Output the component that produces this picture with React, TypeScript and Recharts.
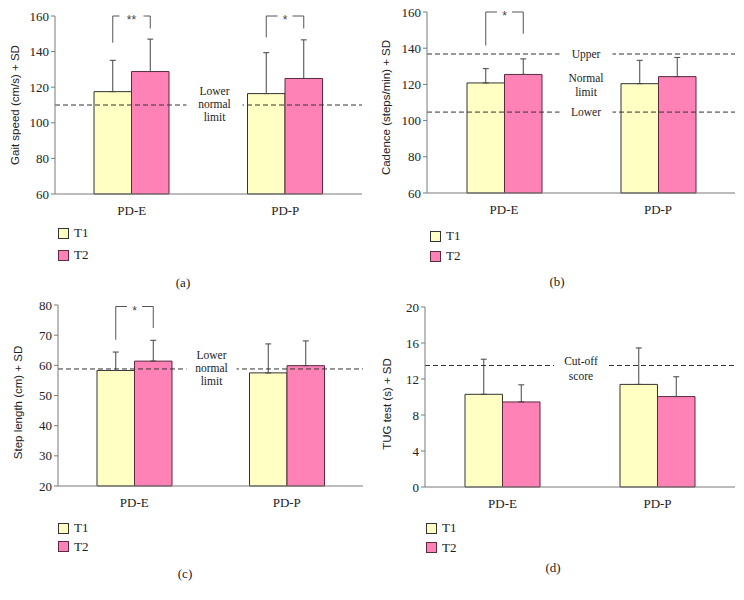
import React from "react";
import { Bar, BarChart, ErrorBar, Legend, Rectangle, ReferenceLine, XAxis, YAxis } from "recharts";

const categories = ["PD-E", "PD-P"];
const seriesNames = ["T1", "T2"];

// (a) gait speed, cm/s
const gaitT1 = [117.5, 116.4];
const gaitT1Sd = [17.6, 23.0];
const gaitT2 = [128.8, 124.9];
const gaitT2Sd = [18.2, 21.7];
const gaitMarks = ["**", "*"];
const gaitBracketLeft = [145, 148];
const gaitBracketRight = [153, 153];
const gaitLimit = 110;

// (b) cadence, steps/min
const cadenceT1 = [120.8, 120.4];
const cadenceT1Sd = [7.9, 12.9];
const cadenceT2 = [125.5, 124.3];
const cadenceT2Sd = [8.6, 10.6];
const cadenceMarks = ["*", ""];
const cadenceBracketLeft = [141.5, 0];
const cadenceBracketRight = [148, 0];
const cadenceUpper = 136.8;
const cadenceLower = 104.7;

// (c) step length, cm
const stepT1 = [58.3, 57.5];
const stepT1Sd = [6.1, 9.6];
const stepT2 = [61.4, 59.9];
const stepT2Sd = [6.9, 8.2];
const stepMarks = ["*", ""];
const stepBracketLeft = [68.5, 0];
const stepBracketRight = [72.4, 0];
const stepLimit = 58.8;

// (d) TUG test, s
const tugT1 = [10.3, 11.4];
const tugT1Sd = [3.9, 4.05];
const tugT2 = [9.45, 10.05];
const tugT2Sd = [1.9, 2.2];
const tugCutoff = 13.5;

const SERIF = "'Liberation Serif', 'DejaVu Serif', serif";
const SANS = "'Liberation Sans', Arial, sans-serif";
const T1_FILL = "#ffffc4";
const T1_STROKE = "#333333";
const T2_FILL = "#ff82b6";
const T2_STROKE = "#5a2a40";
const AXIS = "#7a7a7a";

type Row = {
  name: string;
  t1: number;
  t2: number;
  t1Err: number[];
  t2Err: number[];
  mark: string;
  left: number;
  right: number;
};

type Note = { y: number; lines: string[]; offsets: number[]; gap: number; dx: number };

type PanelCfg = {
  pos: [number, number];
  h: number;
  margin: { top: number; right: number; bottom: number; left: number };
  domain: [number, number];
  ticks: number[];
  title: string;
  titleX: number;
  titleDy: number;
  rows: Row[];
  bracketTop: number;
  notes: Note[];
  legendX: number;
  legendY: number;
  legendRow: number;
  tag: string;
  tagX: number;
  tagY: number;
};

function buildRows(t1: number[], t1Sd: number[], t2: number[], t2Sd: number[], marks?: string[], left?: number[], right?: number[]): Row[] {
  return categories.map((name, i) => ({
    name,
    t1: t1[i],
    t2: t2[i],
    t1Err: [0, t1Sd[i]],
    t2Err: [0, t2Sd[i]],
    mark: marks ? marks[i] : "",
    left: left ? left[i] : 0,
    right: right ? right[i] : 0,
  }));
}

// T1 bar shape; also draws the significance bracket over the pair
function makeT1Shape(min: number, bracketTop: number) {
  return (p: any) => {
    const { x, y, width, height, payload } = p;
    const rect = <Rectangle x={x} y={y} width={width} height={height} fill={T1_FILL} stroke={T1_STROKE} strokeWidth={1} />;
    if (!payload || !payload.mark) return rect;
    const k = height / (payload.t1 - min);
    const yOf = (v: number) => y + height - (v - min) * k;
    const xl = x + width / 2;
    const xr = x + width * 1.5;
    const xm = (xl + xr) / 2;
    const yt = yOf(bracketTop);
    const half = 3 + 4.5 * payload.mark.length;
    return (
      <g>
        {rect}
        <path
          d={`M${xl},${yOf(payload.left)}V${yt}H${xm - half}M${xm + half},${yt}H${xr}V${yOf(payload.right)}`}
          stroke="#555"
          strokeWidth={1}
          fill="none"
        />
        <text x={xm} y={yt + 8} textAnchor="middle" fontFamily={SANS} fontSize={12} fill="#444">
          {payload.mark}
        </text>
      </g>
    );
  };
}

function renderNote(note: Note) {
  return (p: any) => {
    const vb = p.viewBox || p;
    const cx = vb.x + vb.width / 2 + note.dx;
    const cy = vb.y;
    return (
      <g>
        <rect x={cx - note.gap / 2} y={cy - 3} width={note.gap} height={6} fill="#fff" />
        {note.lines.map((t, i) => (
          <text key={t} x={cx} y={cy + note.offsets[i]} textAnchor="middle" fontFamily={SERIF} fontSize={11.5} fill="#222">
            {t}
          </text>
        ))}
      </g>
    );
  };
}

function LegendBox({ rowH }: { rowH: number }) {
  const fills = [T1_FILL, T2_FILL];
  const strokes = [T1_STROKE, T2_STROKE];
  return (
    <div style={{ fontFamily: SERIF, fontSize: 13, color: "#222" }}>
      {seriesNames.map((n, i) => (
        <div key={n} style={{ display: "flex", alignItems: "center", height: rowH }}>
          <span style={{ width: 9, height: 9, background: fills[i], border: `1px solid ${strokes[i]}` }} />
          <span style={{ marginLeft: 5 }}>{n}</span>
        </div>
      ))}
    </div>
  );
}

function Panel({ cfg }: { cfg: PanelCfg }) {
  const [min] = cfg.domain;
  return (
    <div style={{ position: "absolute", left: cfg.pos[0], top: cfg.pos[1], width: 372, height: cfg.h }}>
      <BarChart width={372} height={cfg.h} data={cfg.rows} margin={cfg.margin} barGap={0} barSize={37.5}>
        <XAxis
          dataKey="name"
          height={30}
          tickLine={false}
          tickSize={6}
          tickMargin={6}
          stroke={AXIS}
          tick={{ fontFamily: SERIF, fontSize: 13, fill: "#222" }}
        />
        <YAxis
          width={40}
          domain={cfg.domain}
          ticks={cfg.ticks}
          interval={0}
          tickSize={4}
          tickMargin={2}
          stroke={AXIS}
          tick={{ fontFamily: SERIF, fontSize: 13, fill: "#222" }}
          label={(p: any) => {
            const vb = p.viewBox || p;
            const cy = vb.y + vb.height / 2 + cfg.titleDy;
            return (
              <text
                x={cfg.titleX}
                y={cy}
                transform={`rotate(-90 ${cfg.titleX} ${cy})`}
                textAnchor="middle"
                dominantBaseline="central"
                fontFamily={SANS}
                fontSize={11.5}
                fill="#222"
              >
                {cfg.title}
              </text>
            );
          }}
        />
        <Bar dataKey="t1" name="T1" fill={T1_FILL} stroke={T1_STROKE} isAnimationActive={false} shape={makeT1Shape(min, cfg.bracketTop)}>
          <ErrorBar dataKey="t1Err" width={3} stroke="#444" strokeWidth={1} direction="y" isAnimationActive={false} />
        </Bar>
        <Bar dataKey="t2" name="T2" fill={T2_FILL} stroke={T2_STROKE} isAnimationActive={false}>
          <ErrorBar dataKey="t2Err" width={3} stroke="#444" strokeWidth={1} direction="y" isAnimationActive={false} />
        </Bar>
        {cfg.notes.map((n) => (
          <ReferenceLine key={n.y} y={n.y} stroke="#333" strokeDasharray="5 3" label={renderNote(n)} />
        ))}
        <Legend
          layout="vertical"
          align="center"
          verticalAlign="middle"
          wrapperStyle={{ left: cfg.legendX, top: cfg.legendY, width: 60 }}
          content={() => <LegendBox rowH={cfg.legendRow} />}
        />
      </BarChart>
      <div
        style={{
          position: "absolute",
          left: cfg.tagX,
          top: cfg.tagY,
          transform: "translate(-50%, -50%)",
          fontFamily: SERIF,
          fontSize: 13,
          color: "#222",
        }}
      >
        {cfg.tag}
      </div>
    </div>
  );
}

// bottom panels start 10px higher so their top tick labels are not clipped
const panels: PanelCfg[] = [
  {
    pos: [0, 0],
    h: 300,
    margin: { top: 16, right: 10, bottom: 76, left: 15 },
    domain: [60, 160],
    ticks: [60, 80, 100, 120, 140, 160],
    title: "Gait speed (cm/s) + SD",
    titleX: 15,
    titleDy: 0,
    rows: buildRows(gaitT1, gaitT1Sd, gaitT2, gaitT2Sd, gaitMarks, gaitBracketLeft, gaitBracketRight),
    bracketTop: 160,
    notes: [{ y: gaitLimit, lines: ["Lower", "normal", "limit"], offsets: [-10, 3, 16], gap: 56, dx: 6 }],
    legendX: 58,
    legendY: 222,
    legendRow: 22,
    tag: "(a)",
    tagX: 183,
    tagY: 283,
  },
  {
    pos: [372, 0],
    h: 300,
    margin: { top: 12, right: 9, bottom: 77, left: 15 },
    domain: [60, 160],
    ticks: [60, 80, 100, 120, 140, 160],
    title: "Cadence (steps/min) + SD",
    titleX: 14,
    titleDy: 5,
    rows: buildRows(cadenceT1, cadenceT1Sd, cadenceT2, cadenceT2Sd, cadenceMarks, cadenceBracketLeft, cadenceBracketRight),
    bracketTop: 160,
    notes: [
      { y: cadenceUpper, lines: ["Upper", "Normal", "limit"], offsets: [4, 28, 42], gap: 53, dx: 5 },
      { y: cadenceLower, lines: ["Lower"], offsets: [4], gap: 53, dx: 5 },
    ],
    legendX: 58,
    legendY: 226,
    legendRow: 20,
    tag: "(b)",
    tagX: 185,
    tagY: 282,
  },
  {
    pos: [0, 290],
    h: 310,
    margin: { top: 15, right: 9, bottom: 84, left: 18 },
    domain: [20, 80],
    ticks: [20, 30, 40, 50, 60, 70, 80],
    title: "Step length (cm) + SD",
    titleX: 18,
    titleDy: 7,
    rows: buildRows(stepT1, stepT1Sd, stepT2, stepT2Sd, stepMarks, stepBracketLeft, stepBracketRight),
    bracketTop: 79.5,
    notes: [{ y: stepLimit, lines: ["Lower", "normal", "limit"], offsets: [-10, 3, 16], gap: 50, dx: 1 }],
    legendX: 58,
    legendY: 229,
    legendRow: 18.5,
    tag: "(c)",
    tagX: 185,
    tagY: 284,
  },
  {
    pos: [372, 290],
    h: 310,
    margin: { top: 17, right: 9, bottom: 83, left: 13 },
    domain: [0, 20],
    ticks: [0, 4, 8, 12, 16, 20],
    title: "TUG test (s) + SD",
    titleX: 15,
    titleDy: 7,
    rows: buildRows(tugT1, tugT1Sd, tugT2, tugT2Sd),
    bracketTop: 20,
    notes: [{ y: tugCutoff, lines: ["Cut-off", "score"], offsets: [-1, 14], gap: 54, dx: 1 }],
    legendX: 54,
    legendY: 228.5,
    legendRow: 19.5,
    tag: "(d)",
    tagX: 181,
    tagY: 278,
  },
];

export default function App() {
  return (
    <div style={{ position: "absolute", left: 0, top: 0, width: 744, height: 600, background: "#fff", overflow: "hidden" }}>
      {panels.map((cfg) => (
        <Panel key={cfg.tag} cfg={cfg} />
      ))}
    </div>
  );
}
